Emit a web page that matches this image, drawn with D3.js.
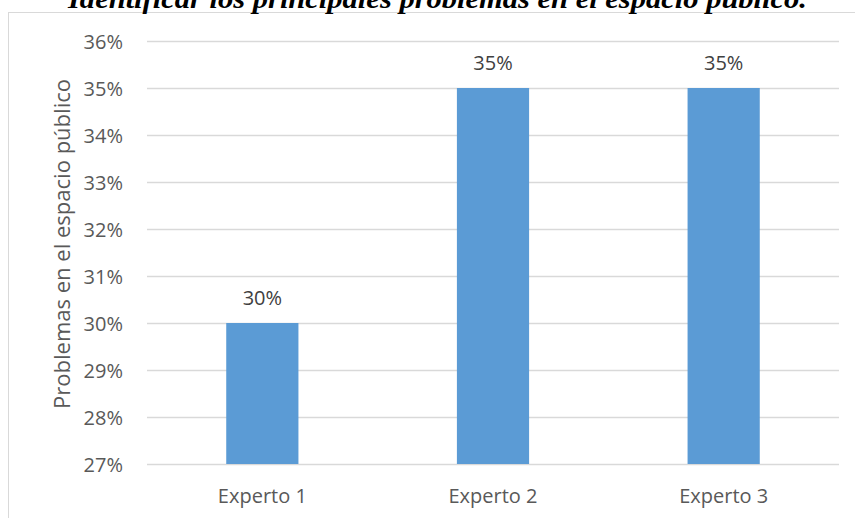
<!DOCTYPE html>
<html><head><meta charset="utf-8">
<script src="https://cdn.jsdelivr.net/npm/d3@7"></script>
<style>html,body{margin:0;padding:0;background:#fff;overflow:hidden}</style>
</head><body>
<svg id="c" width="855" height="518"></svg>
<script>
const categories = ["Experto 1", "Experto 2", "Experto 3"];
const values = [0.30, 0.35, 0.35];
const yTicks = [0.27, 0.28, 0.29, 0.30, 0.31, 0.32, 0.33, 0.34, 0.35, 0.36];
const titleText = "Identificar los principales problemas en el espacio público.";
const yAxisTitle = "Problemas en el espacio público";

const svg = d3.select("#c");
const font = "'Open Sans', sans-serif";
const fs = 20;
const plot = {left: 147, right: 839, top: 41, bottom: 464};

// chart frame
svg.append("rect").attr("x", 8.5).attr("y", 12.5).attr("width", 900).attr("height", 600)
  .attr("fill", "#fff").attr("stroke", "#D9D9D9").attr("stroke-width", 1);

// title (clipped at top, as in the reference)
svg.append("text").attr("x", 437.5).attr("y", 8).attr("text-anchor", "middle")
  .attr("font-family", "'Liberation Serif', 'Times New Roman', serif")
  .attr("font-style", "italic").attr("font-weight", "bold").attr("font-size", 27)
  .attr("textLength", 739).attr("lengthAdjust", "spacingAndGlyphs")
  .attr("fill", "#000").text(titleText);

const x = d3.scaleBand().domain(categories).range([plot.left, plot.right]).paddingInner(0.687).paddingOuter(0.3435);
const y = d3.scaleLinear().domain([0.27, 0.36]).range([plot.bottom, plot.top]);
const fmt = d3.format(".0%");

// gridlines
svg.append("g").selectAll("line").data(yTicks).join("line")
  .attr("x1", plot.left).attr("x2", plot.right)
  .attr("y1", d => Math.round(y(d)) + 0.5).attr("y2", d => Math.round(y(d)) + 0.5)
  .attr("stroke", "#D9D9D9").attr("stroke-width", 1.3);

// y axis labels
const yAxis = d3.axisLeft(y).tickValues(yTicks).tickFormat(fmt).tickSize(0).tickPadding(0);
const gy = svg.append("g").attr("transform", `translate(${plot.left - 24},0)`).call(yAxis);
gy.select(".domain").remove();
gy.selectAll("text").attr("font-family", font).attr("font-size", fs).attr("fill", "#595959").attr("dy", "0.35em");

// bars
svg.append("g").selectAll("rect").data(values).join("rect")
  .attr("x", (d, i) => x(categories[i])).attr("width", x.bandwidth())
  .attr("y", d => y(d)).attr("height", d => y(0.27) - y(d))
  .attr("fill", "#5B9BD5");

// data labels
svg.append("g").selectAll("text").data(values).join("text")
  .attr("x", (d, i) => x(categories[i]) + x.bandwidth() / 2)
  .attr("y", d => y(d) - 18).attr("text-anchor", "middle")
  .attr("font-family", font).attr("font-size", fs).attr("fill", "#404040")
  .text(d => fmt(d));

// x axis labels
const xAxis = d3.axisBottom(x).tickSize(0).tickPadding(0);
const gx = svg.append("g").attr("transform", `translate(0,${plot.bottom})`).call(xAxis);
gx.select(".domain").remove();
gx.selectAll("text").attr("font-family", font).attr("font-size", fs).attr("fill", "#595959")
  .attr("dy", null).attr("y", 39);

// y axis title
svg.append("text").attr("transform", `translate(70,244) rotate(-90)`)
  .attr("text-anchor", "middle").attr("font-family", font).attr("font-size", 21)
  .attr("textLength", 330).attr("lengthAdjust", "spacingAndGlyphs")
  .attr("fill", "#595959").text(yAxisTitle);
</script>
</body></html>
